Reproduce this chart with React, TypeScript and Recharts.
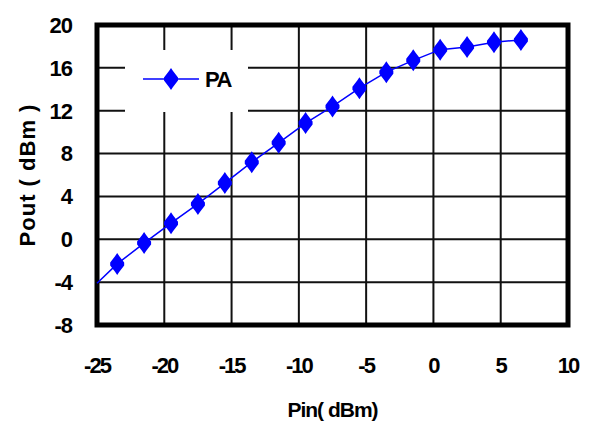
import React from "react"
import {
  LineChart,
  Line,
  XAxis,
  YAxis,
  CartesianGrid,
  ReferenceArea,
  Legend,
} from "recharts"

// Pin (dBm) — first point is just where the curve enters the frame, no marker
const pinValues = [-25, -23.5, -21.5, -19.5, -17.5, -15.5, -13.5, -11.5, -9.5, -7.5, -5.5, -3.5, -1.5, 0.5, 2.5, 4.5, 6.5]
// Pout (dBm)
const poutValues = [-4.1, -2.3, -0.35, 1.5, 3.3, 5.25, 7.2, 9.0, 10.85, 12.4, 14.1, 15.6, 16.7, 17.7, 17.95, 18.4, 18.6]

const xTicks = [-25, -20, -15, -10, -5, 0, 5, 10]
const yTicks = [-8, -4, 0, 4, 8, 12, 16, 20]

const seriesName = "PA"
const BLUE = "#0000ff"
const FONT = "'Liberation Sans', Arial, sans-serif"

const data = pinValues.map((pin, i) => ({ pin, pout: poutValues[i] }))

// diamond marker, a bit taller than wide like the original
const diamondPoints = (cx: number, cy: number) =>
  [
    [0, -11], [2, -8], [7, -1.5], [7, 1.5], [2, 8],
    [0, 11], [-2, 8], [-7, 1.5], [-7, -1.5], [-2, -8],
  ]
    .map(([dx, dy]) => `${cx + dx},${cy + dy}`)
    .join(" ")

const DiamondDot = (props: any) => {
  const { cx, cy, index } = props
  if (index === 0 || cx == null || cy == null) return <g key={`d-${index}`} />
  return <polygon key={`d-${index}`} points={diamondPoints(cx, cy)} fill={BLUE} />
}

const LegendBox = () => (
  <svg width={123} height={62} style={{ display: "block" }}>
    <line x1={18} y1={29} x2={74} y2={29} stroke={BLUE} strokeWidth={1.5} />
    <polygon points={diamondPoints(46, 29)} fill={BLUE} />
    <text x={80} y={37} fontFamily={FONT} fontWeight="bold" fontSize={22} letterSpacing={-1.5} fill="#000">
      {seriesName}
    </text>
  </svg>
)

export default function App() {
  return (
    <div style={{ position: "absolute", left: 0, top: 0, width: 592, height: 426, background: "#fff" }}>
      <LineChart width={592} height={426} data={data} margin={{ top: 25, right: 24, bottom: 0, left: 0 }}>
        <CartesianGrid stroke="#111" strokeWidth={2} />
        <XAxis
          dataKey="pin"
          type="number"
          domain={[-25, 10]}
          ticks={xTicks}
          height={101}
          axisLine={false}
          tickLine={false}
          tickSize={0}
          tickMargin={32}
          tick={{ fill: "#000", fontSize: 22, fontWeight: "bold", fontFamily: FONT, letterSpacing: -2 }}
          label={{
            value: "Pin( dBm)",
            position: "insideBottom",
            offset: 9,
            fill: "#000",
            fontSize: 21,
            fontWeight: "bold",
            fontFamily: FONT,
            letterSpacing: -1,
          }}
        />
        <YAxis
          type="number"
          domain={[-8, 20]}
          ticks={yTicks}
          width={97}
          axisLine={false}
          tickLine={false}
          tickSize={0}
          tickMargin={25}
          tick={{ fill: "#000", fontSize: 22, fontWeight: "bold", fontFamily: FONT, letterSpacing: -1 }}
          label={{
            value: "Pout ( dBm )",
            angle: -90,
            position: "insideLeft",
            offset: 27,
            textAnchor: "middle",
            style: { textAnchor: "middle" },
            fill: "#000",
            fontSize: 22,
            fontWeight: "bold",
            fontFamily: FONT,
            letterSpacing: 1,
          }}
        />
        {/* thick frame around the plot */}
        <ReferenceArea x1={-25} x2={10} y1={-8} y2={20} fill="none" stroke="#000" strokeWidth={5} />
        <Legend
          layout="vertical"
          align="center"
          verticalAlign="middle"
          content={() => <LegendBox />}
          wrapperStyle={{ left: 125, top: 50, width: 123, height: 62, background: "#fff" }}
        />
        <Line
          dataKey="pout"
          name={seriesName}
          stroke={BLUE}
          strokeWidth={1.5}
          dot={<DiamondDot />}
          activeDot={false}
          isAnimationActive={false}
        />
      </LineChart>
    </div>
  )
}
